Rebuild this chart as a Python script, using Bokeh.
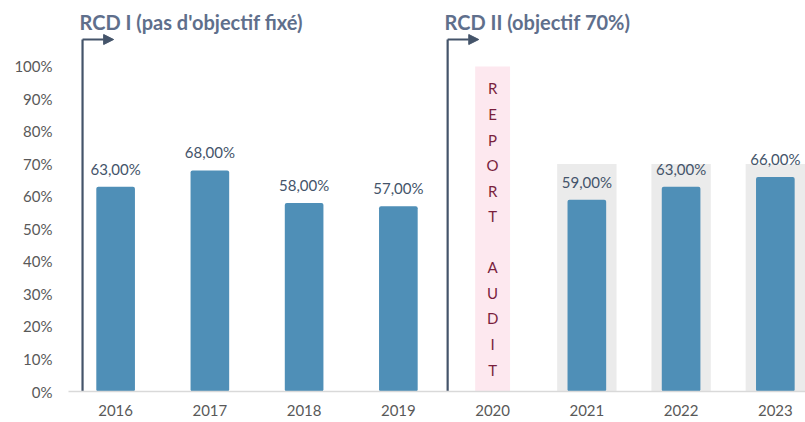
from bokeh.plotting import figure
from bokeh.models import Range1d, FixedTicker, PrintfTickFormatter, Arrow, NormalHead, ColumnDataSource
from bokeh.core.properties import value
from bokeh.embed import file_html
from bokeh.resources import INLINE

# ---- data ----
years = [2016, 2017, 2018, 2019, 2020, 2021, 2022, 2023]
bar_years = [2016, 2017, 2018, 2019, 2021, 2022, 2023]
bar_rates = [63, 68, 58, 57, 59, 63, 66]
rate_labels = ["63,00%", "68,00%", "58,00%", "57,00%", "59,00%", "63,00%", "66,00%"]
target_years = [2021, 2022, 2023]
target_rates = [70, 70, 70]
audit_years = [2020]
audit_heights = [100]
audit_text = ["R\nE\nP\nO\nR\nT\n\nA\nU\nD\nI\nT"]
period_titles = ["RCD I (pas d'objectif fixé)", "RCD II (objectif 70%)"]
period_starts = [2016, 2020]
y_ticks = [0, 10, 20, 30, 40, 50, 60, 70, 80, 90, 100]

FONT = "Lato"
BAR = "#4f8fb7"
DARK = "#44546a"

p = figure(width=805, height=422, output_backend="svg", toolbar_location=None,
           x_range=Range1d(2015.5, 2023.32), y_range=Range1d(0, 120.3),
           min_border_left=68, min_border_right=0, min_border_top=0, min_border_bottom=31)
p.outline_line_color = None
p.xgrid.grid_line_color = None
p.ygrid.grid_line_color = None
p.background_fill_color = "white"
p.border_fill_color = "white"

# background target bars (objective 70%)
p.vbar(x=target_years, top=target_rates, bottom=0, width=0.63, fill_color="#ebebeb", line_color=None)
# audit postponed bar
p.vbar(x=audit_years, top=audit_heights, bottom=0, width=0.37, fill_color="#fde8ef", line_color=None)
p.text(x=audit_years, y=[h / 2 for h in audit_heights], text=audit_text,
       text_font=value(FONT), text_font_size="15px", text_color="#7a1f3d",
       text_align="center", text_baseline="middle", text_line_height=1.42)

# main bars
src = ColumnDataSource(dict(x=bar_years, top=bar_rates, lab=rate_labels))
p.vbar(x="x", top="top", bottom=0, width=0.41, fill_color=BAR, line_color=None, source=src,
       border_radius=2)
p.text(x="x", y="top", text="lab", source=src, text_font=value(FONT), text_font_size="15px",
       text_color=DARK, text_align="center", text_baseline="middle", y_offset=-18)

# period markers
title_y = 113.6
arrow_y = 108.3
p.text(x=[s - 0.383 if i == 0 else s - 0.51 for i, s in enumerate(period_starts)],
       y=[title_y, title_y], text=period_titles, text_font=value(FONT), text_font_size="20px",
       text_font_style="bold", text_color="#5f6f8c", text_align="left", text_baseline="alphabetic")
arrow_x = [period_starts[0] - 0.351, period_starts[1] - 0.477]
p.segment(x0=arrow_x, y0=[0, 0], x1=arrow_x, y1=[arrow_y, arrow_y], line_color=DARK, line_width=2.2)
for ax in arrow_x:
    p.add_layout(Arrow(x_start=ax, y_start=arrow_y, x_end=ax + 0.33, y_end=arrow_y,
                       line_color=DARK, line_width=2.2,
                       end=NormalHead(size=10, fill_color=DARK, line_color=DARK)))

# axes
p.yaxis.ticker = FixedTicker(ticks=y_ticks)
p.yaxis.formatter = PrintfTickFormatter(format="%d%%")
p.yaxis.axis_line_color = None
p.yaxis.major_tick_line_color = None
p.yaxis.minor_tick_line_color = None
p.yaxis.major_tick_out = 0
p.yaxis.major_label_standoff = 16
p.yaxis.major_label_text_font = FONT
p.yaxis.major_label_text_font_size = "15px"
p.yaxis.major_label_text_color = "#595959"

p.xaxis.ticker = FixedTicker(ticks=years)
p.xaxis.major_label_overrides = {y: str(y) for y in years}
p.xaxis.axis_line_color = "#d9d9d9"
p.xaxis.axis_line_width = 1.5
p.xaxis.major_tick_line_color = None
p.xaxis.minor_tick_line_color = None
p.xaxis.major_tick_out = 0
p.xaxis.major_label_standoff = 13
p.xaxis.major_label_text_font = FONT
p.xaxis.major_label_text_font_size = "15px"
p.xaxis.major_label_text_color = "#595959"

open("out.html", "w").write(file_html(p, INLINE))
